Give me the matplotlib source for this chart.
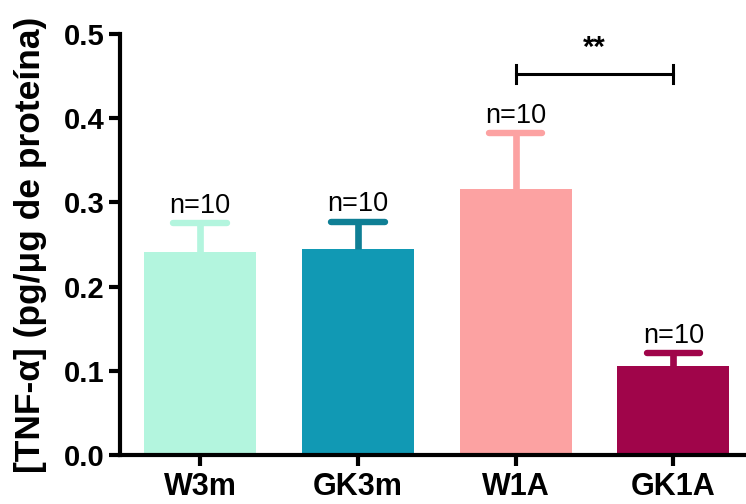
import matplotlib.pyplot as plt

plt.rcParams['font.family'] = ['Liberation Sans', 'DejaVu Sans']

# dados
grupos = ['W3m', 'GK3m', 'W1A', 'GK1A']
medias = [0.241, 0.245, 0.316, 0.106]
erros = [0.034, 0.032, 0.066, 0.015]
n_amostras = [10, 10, 10, 10]
cores = ['#b3f5de', '#1199b4', '#fca2a2', '#a0054a']
cores_erro = ['#b3f5de', '#0f7f95', '#fca2a2', '#a0054a']
signif_par = (2, 3)
signif_y = 0.4525
signif_txt = '**'

fig = plt.figure(figsize=(7.46, 5.04), dpi=100)
ax = fig.add_axes([0.161, 0.097, 0.839, 0.836])

x = list(range(len(grupos)))
ax.bar(x, medias, width=0.71, color=cores, zorder=2)

meia_cap = 0.17
for i in x:
    topo = medias[i] + erros[i]
    ax.plot([i, i], [medias[i], topo], color=cores_erro[i], lw=4.8,
            solid_capstyle='butt', zorder=3)
    ax.plot([i - meia_cap, i + meia_cap], [topo, topo], color=cores_erro[i],
            lw=4.6, solid_capstyle='round', zorder=3)
    ax.text(i, topo + 0.005, 'n=%d' % n_amostras[i], ha='center', va='bottom',
            fontsize=19.5)

# barra de significancia
a, b = signif_par
ax.plot([a, b], [signif_y, signif_y], color='black', lw=2.2)
ax.plot([a, a], [signif_y - 0.011, signif_y + 0.011], color='black', lw=2.2)
ax.plot([b, b], [signif_y - 0.011, signif_y + 0.011], color='black', lw=2.2)
ax.text((a + b) / 2, signif_y + 0.014, signif_txt, ha='center', va='bottom',
        fontsize=21, fontweight='bold')

ax.set_xlim(-0.506, 3.46)
ax.set_ylim(0, 0.5)
ax.set_yticks([0.0, 0.1, 0.2, 0.3, 0.4, 0.5])
ax.set_yticklabels(['0.0', '0.1', '0.2', '0.3', '0.4', '0.5'])
ax.set_xticks(x)
ax.set_xticklabels(grupos)

for lab in ax.get_xticklabels() + ax.get_yticklabels():
    lab.set_fontweight('bold')
ax.tick_params(axis='y', labelsize=21, width=3, length=8, pad=3)
ax.tick_params(axis='x', labelsize=22, width=3, length=8, pad=4)

ax.spines['top'].set_visible(False)
ax.spines['right'].set_visible(False)
ax.spines['left'].set_linewidth(3)
ax.spines['bottom'].set_linewidth(3)

ax.set_ylabel('[TNF-α] (pg/μg de proteína)', fontsize=25.5, fontweight='bold')
ax.yaxis.set_label_coords(-0.117, 0.5)

fig.savefig('out.png', dpi=100)
